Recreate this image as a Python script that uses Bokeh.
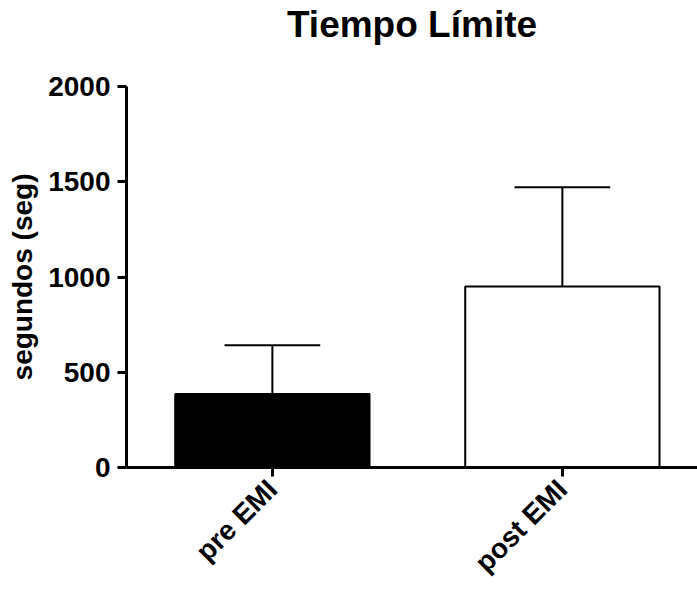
import math
from bokeh.plotting import figure
from bokeh.models import Range1d, FixedTicker, ColumnDataSource, Title
from bokeh.embed import file_html
from bokeh.resources import INLINE

title_text = "Tiempo Límite"
categories = ["pre EMI", "post EMI"]
means = [386, 950]
sds = [256, 521]
fills = ["#000000", "#ffffff"]
y_ticks = [0, 500, 1000, 1500, 2000]

BAR_W = 0.67
CAP_HALF = 0.165

xs = [i + 0.5 for i in range(len(categories))]
upper = [m + s for m, s in zip(means, sds)]

src = ColumnDataSource(dict(
    x=xs, top=means, upper=upper, fill=fills,
    cx0=[x - CAP_HALF for x in xs], cx1=[x + CAP_HALF for x in xs],
))

p = figure(width=697, height=591, output_backend="svg", toolbar_location=None,
           x_range=Range1d(-0.003, 1.966), y_range=Range1d(0, 2000),
           min_border_left=126, min_border_right=0, min_border_bottom=124,
           min_border_top=84)
p.outline_line_color = None
p.background_fill_color = "white"
p.border_fill_color = "white"
p.grid.visible = False

FONT = "Liberation Sans"

p.title.text = ""
# spacer panel between frame and title
p.add_layout(Title(text=" ", text_font=FONT, text_font_size="10px",
                   standoff=27, text_color="white"), "above")
p.add_layout(Title(text=title_text, text_font=FONT, text_font_size="37px",
                   text_font_style="bold", text_color="black",
                   align="center", offset=15, standoff=3), "above")

p.vbar(x="x", top="top", bottom=0, width=BAR_W, source=src,
       fill_color="fill", line_color="black", line_width=2)

# error bars (upper only) with caps
p.segment(x0="x", x1="x", y0="top", y1="upper", source=src,
          line_color="black", line_width=2)
p.segment(x0="cx0", x1="cx1", y0="upper", y1="upper", source=src,
          line_color="black", line_width=2)

xa = p.xaxis[0]
xa.ticker = FixedTicker(ticks=xs)
xa.major_label_overrides = {x: c for x, c in zip(xs, categories)}
xa.major_label_orientation = math.pi / 4
xa.major_label_text_font = FONT
xa.major_label_text_font_size = "28px"
xa.major_label_text_font_style = "bold"
xa.major_label_text_color = "black"
xa.axis_line_width = 3
xa.axis_line_color = "black"
xa.major_tick_line_width = 3
xa.major_tick_out = 9
xa.major_tick_in = 0
xa.minor_tick_line_color = None
xa.major_label_standoff = 8

ya = p.yaxis[0]
ya.ticker = FixedTicker(ticks=y_ticks)
ya.axis_label = "segundos (seg)"
ya.axis_label_text_font = FONT
ya.axis_label_text_font_size = "28px"
ya.axis_label_text_font_style = "bold"
ya.axis_label_text_color = "black"
ya.axis_label_standoff = 7
ya.major_label_text_font = FONT
ya.major_label_text_font_size = "28px"
ya.major_label_text_font_style = "bold"
ya.major_label_text_color = "black"
ya.axis_line_width = 3
ya.axis_line_color = "black"
ya.major_tick_line_width = 3
ya.major_tick_out = 9
ya.major_tick_in = 0
ya.minor_tick_line_color = None
ya.major_label_standoff = 7

open("out.html", "w").write(file_html(p, INLINE))
